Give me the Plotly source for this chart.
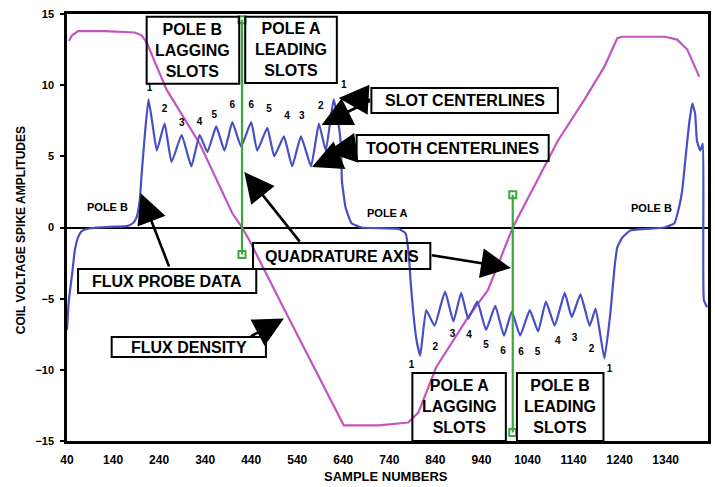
import plotly.graph_objects as go

# Flux probe record: sample number vs coil voltage spike amplitude
probe_samples = [40, 44, 51, 57, 64, 72, 90, 133, 170, 183, 191, 198, 202, 209, 217, 226, 235,
                 252, 267, 289, 310, 328, 345, 364, 382, 399, 418, 440, 453, 475, 490, 511, 529,
                 548, 570, 587, 602, 619, 630, 635, 637, 645, 658, 680, 760, 775, 782, 786, 792,
                 799, 807, 820, 838, 861, 879, 896, 911, 931, 950, 970, 989, 1006, 1024, 1045,
                 1063, 1080, 1099, 1121, 1136, 1155, 1175, 1188, 1207, 1220, 1229, 1235, 1246,
                 1264, 1337, 1359, 1369, 1376, 1382, 1391, 1398, 1404, 1408, 1415, 1421, 1423, 1430]
probe_volts = [-7.2, -5.1, -3.3, -1.6, -0.7, -0.25, -0.05, 0.05, 0.1, 0.3, 0.7, 1.9, 3.7, 6.5, 9.0,
               7.2, 5.4, 7.3, 4.6, 6.5, 4.3, 6.5, 5.3, 7.1, 5.4, 7.4, 5.7, 7.4, 5.4, 7.0, 5.0, 6.4,
               4.3, 6.4, 4.3, 7.3, 5.4, 9.0, 7.2, 5.7, 3.3, 1.4, 0.3, 0.0, -0.1, -0.4, -1.8, -3.7,
               -6.0, -7.9, -9.0, -5.8, -6.9, -4.5, -6.6, -4.6, -6.4, -5.2, -7.2, -5.5, -7.6, -5.9,
               -7.6, -5.8, -7.3, -5.2, -6.9, -4.6, -6.3, -4.7, -6.9, -5.7, -9.2, -6.0, -2.8, -1.4,
               -0.7, -0.2, 0.0, 0.3, 1.4, 2.6, 4.5, 7.3, 8.7, 8.0, 6.1, 5.4, 5.9, -5.1, -5.6]

# Flux density across the same samples
density_samples = [44, 51, 64, 122, 187, 202, 213, 256, 328, 399, 420, 436, 522, 609, 641, 717,
                   781, 803, 842, 911, 954, 1008, 1106, 1164, 1207, 1235, 1246, 1339, 1365, 1387, 1413]
density_vals = [13.1, 13.5, 13.8, 13.8, 13.7, 13.5, 13.0, 9.7, 5.9, 1.0, 0.0, -0.9, -6.4, -11.9,
                -13.9, -13.9, -13.7, -13.0, -9.8, -6.3, -4.4, 0.0, 6.1, 9.0, 11.3, 13.3, 13.4,
                13.4, 13.2, 12.5, 10.6]

# Quadrature axis markers
quad_a_samples = [420, 420]
quad_a_vals = [14.6, -1.9]
quad_b_samples = [1008, 1008]
quad_b_vals = [2.3, -14.4]

# Slot numbering near the peaks / troughs
slot_text = ["1", "2", "3", "4", "5", "6", "6", "5", "4", "3", "2", "1"]
slot_top_x = [219, 252, 289, 328, 360, 399, 440, 479, 518, 550, 591, 641]
slot_top_y = [9.8, 8.3, 7.3, 7.4, 7.9, 8.6, 8.6, 8.3, 7.8, 7.8, 8.5, 10.0]
slot_bot_x = [788, 840, 877, 913, 950, 987, 1026, 1062, 1106, 1142, 1179, 1218]
slot_bot_y = [-9.7, -8.4, -7.5, -7.6, -8.3, -8.7, -8.8, -8.8, -8.0, -7.8, -8.6, -10.0]

x_ticks = [40, 140, 240, 340, 440, 540, 640, 740, 840, 940, 1040, 1140, 1240, 1340]
y_ticks = [-15, -10, -5, 0, 5, 10, 15]

FONT = "Liberation Sans"
BLUE = "#4650c4"
MAGENTA = "#c355c3"
GREEN = "#3aa83a"

fig = go.Figure()
fig.add_trace(go.Scatter(x=density_samples, y=density_vals, mode="lines",
                         line=dict(color=MAGENTA, width=2.2), hoverinfo="skip"))
fig.add_trace(go.Scatter(x=probe_samples, y=probe_volts, mode="lines",
                         line=dict(color=BLUE, width=2.2, shape="spline", smoothing=0.4),
                         hoverinfo="skip"))
for xs, ys in ((quad_a_samples, quad_a_vals), (quad_b_samples, quad_b_vals)):
    fig.add_trace(go.Scatter(x=xs, y=ys, mode="lines+markers",
                             line=dict(color=GREEN, width=2.2),
                             marker=dict(symbol="square-open", size=7, color=GREEN,
                                         line=dict(width=2, color=GREEN)),
                             hoverinfo="skip"))
for xs, ys in ((slot_top_x, slot_top_y), (slot_bot_x, slot_bot_y)):
    fig.add_trace(go.Scatter(x=xs, y=ys, mode="text", text=slot_text,
                             textfont=dict(family=FONT, size=10, color="black", weight="bold"),
                             hoverinfo="skip"))

# Labelled boxes (sample range, volt range)
boxes = [
    ("POLE B<br>LAGGING<br>SLOTS", 213, 414, 10.1, 14.8),
    ("POLE A<br>LEADING<br>SLOTS", 427, 626, 10.15, 14.8),
    ("SLOT CENTERLINES", 701, 1106, 8.05, 9.8),
    ("TOOTH CENTERLINES", 669, 1086, 4.67, 6.5),
    ("FLUX PROBE DATA", 64, 451, -4.6, -2.92),
    ("FLUX DENSITY", 137, 472, -9.1, -7.7),
    ("QUADRATURE AXIS", 444, 829, -2.92, -1.09),
    ("POLE A<br>LAGGING<br>SLOTS", 790, 993, -15.0, -10.22),
    ("POLE B<br>LEADING<br>SLOTS", 1017, 1205, -15.0, -10.22),
]
shapes = []
annotations = []
for text, x0, x1, y0, y1 in boxes:
    shapes.append(dict(type="rect", xref="x", yref="y", x0=x0, x1=x1, y0=y0, y1=y1,
                       line=dict(color="black", width=2), fillcolor="rgba(0,0,0,0)",
                       layer="above"))
    annotations.append(dict(x=(x0 + x1) / 2, y=(y0 + y1) / 2, xref="x", yref="y",
                            text=text, showarrow=False,
                            font=dict(family=FONT, size=16, color="black", weight="bold")))

# Plain pole labels
for text, x, y in (("POLE B", 129, 1.44), ("POLE A", 736, 1.0), ("POLE B", 1309, 1.37)):
    annotations.append(dict(x=x, y=y, xref="x", yref="y", text=text, showarrow=False,
                            font=dict(family=FONT, size=11, color="black", weight="bold")))

# Pointer arrows: (tip sample, tip volts, tail sample, tail volts)
arrows = [
    (200, 2.4, 263, -2.85),
    (511, -6.4, 436, -7.7),
    (425, 3.9, 548, -1.1),
    (1004, -2.85, 829, -1.93),
    (630, 9.1, 701, 8.96),
    (593, 7.2, 701, 8.96),
    (604, 5.3, 669, 5.6),
    (572, 4.25, 669, 5.6),
]
for tx, ty, sx, sy in arrows:
    annotations.append(dict(x=tx, y=ty, ax=sx, ay=sy, xref="x", yref="y",
                            axref="x", ayref="y", text="", showarrow=True,
                            arrowhead=2, arrowsize=2.3, arrowwidth=2.6, arrowcolor="black"))

# Axis titles
annotations.append(dict(x=0.497, y=-0.0843, xref="paper", yref="paper", yanchor="middle",
                        text="SAMPLE NUMBERS", showarrow=False,
                        font=dict(family=FONT, size=13, color="black", weight="bold")))
annotations.append(dict(x=-0.0715, y=0.494, xref="paper", yref="paper", xanchor="center",
                        text="COIL VOLTAGE SPIKE AMPLITUDES", showarrow=False, textangle=-90,
                        font=dict(family=FONT, size=12, color="black", weight="bold")))

fig.update_layout(
    width=715, height=487,
    margin=dict(l=67, r=4, t=14, b=46),
    paper_bgcolor="white", plot_bgcolor="white",
    showlegend=False,
    shapes=shapes, annotations=annotations,
    xaxis=dict(range=[40, 1432], tickvals=x_ticks, ticks="", showgrid=False, zeroline=False,
               showline=True, linecolor="black", linewidth=2.5, mirror=True,
               ticklabelstandoff=6,
               tickfont=dict(family=FONT, size=12, color="black", weight="bold")),
    yaxis=dict(range=[-15, 15], tickvals=y_ticks, ticks="outside", ticklen=4, tickwidth=2,
               tickcolor="black", showgrid=False, zeroline=True, zerolinecolor="black",
               zerolinewidth=1.5, showline=True, linecolor="black", linewidth=2.5, mirror=True,
               ticklabelstandoff=4,
               tickfont=dict(family=FONT, size=11, color="black", weight="bold")),
)

fig.write_html("out.html")
